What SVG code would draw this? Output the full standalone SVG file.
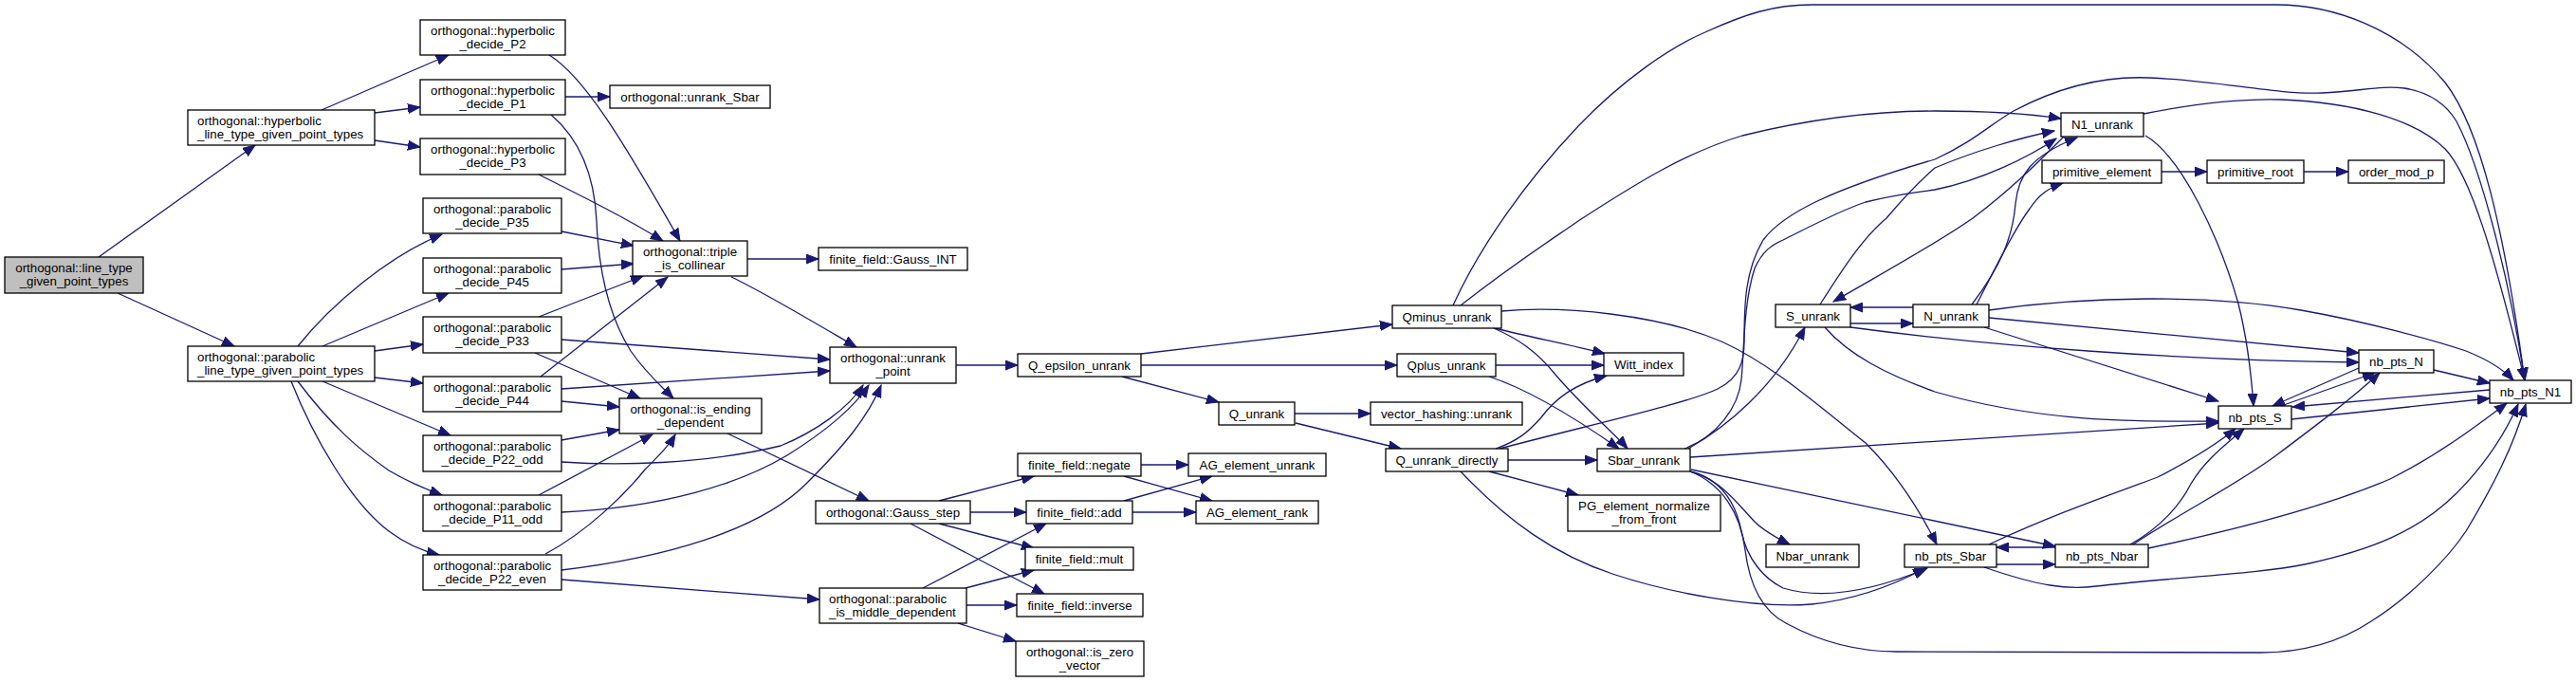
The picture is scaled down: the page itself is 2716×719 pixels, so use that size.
<svg xmlns="http://www.w3.org/2000/svg" width="2716" height="719" viewBox="0 0 2716 719">
<style>
.node rect{fill:#ffffff;stroke:#000000;stroke-width:1.3}
.root rect{fill:#bfbfbf}
.node text{font-family:"Liberation Sans",Arial,sans-serif;font-size:13.3px;fill:#000000}
.c{text-anchor:middle}
.edges path{fill:none;stroke:#191970;stroke-width:1.3;marker-end:url(#ah)}
</style>
<defs>
<marker id="ah" markerWidth="14" markerHeight="11" refX="13" refY="5.5" orient="auto" markerUnits="userSpaceOnUse">
<path d="M0,0.5 L13,5.5 L0,10.5 z" fill="#191970" stroke="#191970" stroke-width="1"/>
</marker>
</defs>
<rect x="0" y="0" width="2716" height="719" fill="#ffffff"/>
<g class="edges" id="edges">
<path d="M104,271 L269,153"/>
<path d="M124,309 L247,365"/>
<path d="M339,116 L473,58"/>
<path d="M395,119 L443,113"/>
<path d="M395,148 L443,155"/>
<path d="M579,58 C615,80 655,145 717,254"/>
<path d="M596,102 L643,102"/>
<path d="M581,121 C615,150 627,190 629,233 C631,280 640,330 665,370 C680,392 695,405 710,420"/>
<path d="M568,184 C620,210 660,230 699,254"/>
<path d="M592,244 L668,259"/>
<path d="M592,284 L668,278"/>
<path d="M568,334 L678,291"/>
<path d="M592,358 C700,366 800,373 875,379"/>
<path d="M564,372 L675,420"/>
<path d="M570,397 L704,292"/>
<path d="M592,410 L875,391"/>
<path d="M592,423 L653,429"/>
<path d="M592,464 L653,453"/>
<path d="M592,487 C650,491 740,490 823,470 C860,455 895,430 910,406"/>
<path d="M568,522 L688,458"/>
<path d="M592,540 C700,535 780,510 830,480 C870,455 900,430 916,406"/>
<path d="M575,584 C620,560 660,520 680,495 C695,480 705,470 712,458"/>
<path d="M592,601 C700,588 800,560 850,510 C890,470 915,440 929,406"/>
<path d="M592,611 L864,632"/>
<path d="M314,365 C350,320 410,270 466,247"/>
<path d="M340,365 L473,309"/>
<path d="M395,370 L446,363"/>
<path d="M395,398 L446,404"/>
<path d="M340,402 L475,459"/>
<path d="M314,402 C350,450 380,475 410,496 C430,508 450,516 466,522"/>
<path d="M307,402 C330,460 370,530 410,560 C430,575 450,582 463,585"/>
<path d="M788,273 L863,273"/>
<path d="M771,292 C805,308 850,335 903,366"/>
<path d="M767,457 L916,528"/>
<path d="M1008,385 L1073,385"/>
<path d="M1203,373 L1468,342"/>
<path d="M1203,385 L1473,385"/>
<path d="M1183,397 L1285,424"/>
<path d="M1365,436 L1445,436"/>
<path d="M1366,446 L1477,473"/>
<path d="M990,528 L1090,502"/>
<path d="M1023,540 L1082,540"/>
<path d="M990,552 L1090,578"/>
<path d="M960,552 L1101,626"/>
<path d="M1203,490 L1253,490"/>
<path d="M1185,502 L1278,528"/>
<path d="M1185,528 L1278,502"/>
<path d="M1194,540 L1261,540"/>
<path d="M973,620 L1103,552"/>
<path d="M1018,620 L1090,601"/>
<path d="M1019,638 L1072,638"/>
<path d="M1010,657 L1071,676"/>
<path d="M1540,322 C1600,275 1640,250 1664,233 C1730,190 1780,160 1837,143 C1930,120 2000,117 2040,117 C2100,117 2140,120 2173,125"/>
<path d="M1532,322 C1560,260 1610,190 1664,133 C1710,85 1760,50 1800,33 C1840,15 1870,5 1910,5 L2400,5 C2460,5 2530,30 2578,87 C2615,135 2640,240 2662,401"/>
<path d="M1577,346 C1610,355 1650,362 1692,373"/>
<path d="M1575,346 C1600,357 1620,370 1640,395 C1670,430 1700,455 1716,473"/>
<path d="M1583,328 C1650,322 1750,332 1815,360 C1870,385 1920,430 1967,467 C2000,500 2025,540 2042,574"/>
<path d="M1577,385 L1691,385"/>
<path d="M1570,397 C1610,410 1660,440 1707,473"/>
<path d="M1577,473 C1600,465 1612,455 1625,440 C1640,420 1660,405 1694,396"/>
<path d="M1590,485 L1684,485"/>
<path d="M1570,497 L1664,522"/>
<path d="M1540,497 C1590,550 1640,585 1700,605 C1760,625 1850,642 1910,637 C1960,632 2000,615 2030,599"/>
<path d="M1581,473 C1680,447 1780,425 1811,410 C1835,398 1839,380 1839,360 C1839,320 1840,285 1859,253 C1880,225 1930,200 2040,168 C2080,150 2100,130 2123,117 C2170,92 2220,80 2266,82 C2340,85 2400,100 2448,98 C2490,96 2510,90 2535,93 C2560,97 2578,108 2590,128 C2615,175 2645,290 2662,401"/>
<path d="M1776,473 C1810,460 1833,430 1836,400 C1839,370 1838,320 1850,283 C1858,265 1868,258 1880,253 C1910,238 1940,222 1967,213 C2000,205 2020,203 2040,200 C2090,190 2140,165 2168,146"/>
<path d="M1780,473 C1820,450 1870,410 1903,345"/>
<path d="M1782,482 L2339,446"/>
<path d="M1783,495 L2167,576"/>
<path d="M1782,497 C1815,505 1835,535 1850,550 C1860,560 1875,568 1887,574"/>
<path d="M1782,497 C1815,505 1830,530 1836,560 C1842,590 1860,610 1880,620 C1920,632 1970,625 2032,599"/>
<path d="M1782,497 C1815,510 1835,540 1840,580 C1845,620 1860,645 1883,657 C1920,677 1960,687 2000,687 L2383,688 C2430,688 2470,675 2500,655 C2540,630 2580,590 2600,560 C2630,510 2650,470 2663,426"/>
<path d="M1951,341 L2017,341"/>
<path d="M2017,324 L1951,324"/>
<path d="M1919,321 C1945,280 1965,250 1989,230 C2010,205 2025,190 2040,177 C2080,160 2130,145 2166,138"/>
<path d="M2176,144 C2150,170 2120,200 2080,230 C2040,258 1990,285 1933,318"/>
<path d="M2079,321 C2110,280 2122,250 2125,215 C2128,185 2140,165 2190,145"/>
<path d="M2084,321 C2105,280 2125,240 2140,220 C2150,205 2160,198 2175,193"/>
<path d="M2097,327 C2200,312 2330,310 2426,327 C2500,340 2570,360 2600,370 C2625,380 2640,390 2650,401"/>
<path d="M2097,335 L2487,372"/>
<path d="M2092,345 L2339,423"/>
<path d="M1951,345 C2100,365 2300,380 2487,382"/>
<path d="M1924,345 C1950,375 1990,395 2040,413 C2150,445 2250,445 2339,444"/>
<path d="M2260,120 C2320,108 2370,104 2405,105 C2480,108 2545,125 2578,157 C2605,185 2630,270 2662,401"/>
<path d="M2262,143 C2300,165 2340,250 2360,320 C2370,360 2374,400 2376,428"/>
<path d="M2279,181 L2327,181"/>
<path d="M2429,181 L2476,181"/>
<path d="M2097,574 C2170,540 2230,520 2275,503 C2310,485 2335,470 2357,452"/>
<path d="M2105,595 L2167,595"/>
<path d="M2167,577 L2105,577"/>
<path d="M2092,598 C2150,618 2180,622 2210,618 C2300,608 2380,605 2430,595 C2500,580 2550,560 2590,520 C2620,490 2640,460 2655,426"/>
<path d="M2246,574 C2280,555 2300,530 2310,510 C2325,485 2345,470 2366,452"/>
<path d="M2249,574 C2300,540 2360,510 2400,480 C2440,450 2480,420 2509,393"/>
<path d="M2265,578 C2350,560 2450,535 2520,505 C2570,480 2610,450 2643,425"/>
<path d="M2487,388 L2396,428"/>
<path d="M2405,428 L2504,393"/>
<path d="M2416,442 L2625,420"/>
<path d="M2625,411 L2417,429"/>
<path d="M2566,390 L2625,404"/>
</g>
<g id="n_line_type" class="node root"><rect x="5" y="271" width="146" height="38"/><text class="c" x="78" y="287">orthogonal::line_type</text><text class="c" x="78" y="301">_given_point_types</text></g>
<g id="n_hyp_line" class="node"><rect x="198" y="116" width="197" height="37"/><text x="208" y="132">orthogonal::hyperbolic</text><text x="208" y="146">_line_type_given_point_types</text></g>
<g id="n_par_line" class="node"><rect x="198" y="365" width="197" height="37"/><text x="208" y="381">orthogonal::parabolic</text><text x="208" y="395">_line_type_given_point_types</text></g>
<g id="n_hP2" class="node"><rect x="443" y="21" width="153" height="37"/><text class="c" x="519.5" y="37">orthogonal::hyperbolic</text><text class="c" x="519.5" y="51">_decide_P2</text></g>
<g id="n_hP1" class="node"><rect x="443" y="84" width="153" height="37"/><text class="c" x="519.5" y="100">orthogonal::hyperbolic</text><text class="c" x="519.5" y="114">_decide_P1</text></g>
<g id="n_hP3" class="node"><rect x="443" y="146" width="153" height="38"/><text class="c" x="519.5" y="162">orthogonal::hyperbolic</text><text class="c" x="519.5" y="176">_decide_P3</text></g>
<g id="n_pP35" class="node"><rect x="446" y="209" width="146" height="37"/><text class="c" x="519" y="225">orthogonal::parabolic</text><text class="c" x="519" y="239">_decide_P35</text></g>
<g id="n_pP45" class="node"><rect x="446" y="272" width="146" height="37"/><text class="c" x="519" y="288">orthogonal::parabolic</text><text class="c" x="519" y="302">_decide_P45</text></g>
<g id="n_pP33" class="node"><rect x="446" y="334" width="146" height="38"/><text class="c" x="519" y="350">orthogonal::parabolic</text><text class="c" x="519" y="364">_decide_P33</text></g>
<g id="n_pP44" class="node"><rect x="446" y="397" width="146" height="37"/><text class="c" x="519" y="413">orthogonal::parabolic</text><text class="c" x="519" y="427">_decide_P44</text></g>
<g id="n_pP22odd" class="node"><rect x="446" y="459" width="146" height="38"/><text class="c" x="519" y="475">orthogonal::parabolic</text><text class="c" x="519" y="489">_decide_P22_odd</text></g>
<g id="n_pP11odd" class="node"><rect x="446" y="522" width="146" height="38"/><text class="c" x="519" y="538">orthogonal::parabolic</text><text class="c" x="519" y="552">_decide_P11_odd</text></g>
<g id="n_pP22even" class="node"><rect x="446" y="585" width="146" height="37"/><text class="c" x="519" y="601">orthogonal::parabolic</text><text class="c" x="519" y="615">_decide_P22_even</text></g>
<g id="n_unrank_Sbar" class="node"><rect x="643" y="90" width="169" height="24"/><text class="c" x="727.5" y="107">orthogonal::unrank_Sbar</text></g>
<g id="n_triple" class="node"><rect x="667" y="254" width="121" height="37"/><text class="c" x="727.5" y="270">orthogonal::triple</text><text class="c" x="727.5" y="284">_is_collinear</text></g>
<g id="n_Gauss_INT" class="node"><rect x="863" y="261" width="157" height="24"/><text class="c" x="941.5" y="278">finite_field::Gauss_INT</text></g>
<g id="n_is_ending" class="node"><rect x="653" y="420" width="150" height="37"/><text class="c" x="728" y="436">orthogonal::is_ending</text><text class="c" x="728" y="450">_dependent</text></g>
<g id="n_unrank_point" class="node"><rect x="875" y="366" width="133" height="38"/><text class="c" x="941.5" y="382">orthogonal::unrank</text><text class="c" x="941.5" y="396">_point</text></g>
<g id="n_Gauss_step" class="node"><rect x="860" y="528" width="163" height="24"/><text class="c" x="941.5" y="545">orthogonal::Gauss_step</text></g>
<g id="n_is_middle" class="node"><rect x="864" y="620" width="155" height="37"/><text x="874" y="636">orthogonal::parabolic</text><text x="874" y="650">_is_middle_dependent</text></g>
<g id="n_Q_eps" class="node"><rect x="1073" y="373" width="130" height="24"/><text class="c" x="1138" y="390">Q_epsilon_unrank</text></g>
<g id="n_negate" class="node"><rect x="1073" y="478" width="130" height="24"/><text class="c" x="1138" y="495">finite_field::negate</text></g>
<g id="n_add" class="node"><rect x="1082" y="528" width="112" height="24"/><text class="c" x="1138" y="545">finite_field::add</text></g>
<g id="n_mult" class="node"><rect x="1081" y="577" width="114" height="24"/><text class="c" x="1138" y="594">finite_field::mult</text></g>
<g id="n_inverse" class="node"><rect x="1072" y="626" width="133" height="24"/><text class="c" x="1138.5" y="643">finite_field::inverse</text></g>
<g id="n_is_zero" class="node"><rect x="1071" y="676" width="135" height="37"/><text class="c" x="1138.5" y="692">orthogonal::is_zero</text><text class="c" x="1138.5" y="706">_vector</text></g>
<g id="n_Q_unrank" class="node"><rect x="1285" y="424" width="80" height="24"/><text class="c" x="1325" y="441">Q_unrank</text></g>
<g id="n_AG_unrank" class="node"><rect x="1253" y="478" width="145" height="24"/><text class="c" x="1325.5" y="495">AG_element_unrank</text></g>
<g id="n_AG_rank" class="node"><rect x="1261" y="528" width="129" height="24"/><text class="c" x="1325.5" y="545">AG_element_rank</text></g>
<g id="n_Qminus" class="node"><rect x="1468" y="322" width="115" height="24"/><text class="c" x="1525.5" y="339">Qminus_unrank</text></g>
<g id="n_Qplus" class="node"><rect x="1473" y="373" width="104" height="24"/><text class="c" x="1525" y="390">Qplus_unrank</text></g>
<g id="n_vh_unrank" class="node"><rect x="1445" y="424" width="160" height="24"/><text class="c" x="1525" y="441">vector_hashing::unrank</text></g>
<g id="n_Qud" class="node"><rect x="1461" y="473" width="129" height="24"/><text class="c" x="1525.5" y="490">Q_unrank_directly</text></g>
<g id="n_Witt" class="node"><rect x="1691" y="372" width="84" height="24"/><text class="c" x="1733" y="389">Witt_index</text></g>
<g id="n_Sbar_unrank" class="node"><rect x="1684" y="473" width="98" height="24"/><text class="c" x="1733" y="490">Sbar_unrank</text></g>
<g id="n_PG" class="node"><rect x="1653" y="522" width="161" height="38"/><text class="c" x="1733.5" y="538">PG_element_normalize</text><text class="c" x="1733.5" y="552">_from_front</text></g>
<g id="n_S_unrank" class="node"><rect x="1872" y="321" width="79" height="24"/><text class="c" x="1911.5" y="338">S_unrank</text></g>
<g id="n_N_unrank" class="node"><rect x="2017" y="321" width="80" height="24"/><text class="c" x="2057" y="338">N_unrank</text></g>
<g id="n_Nbar_unrank" class="node"><rect x="1862" y="574" width="98" height="24"/><text class="c" x="1911" y="591">Nbar_unrank</text></g>
<g id="n_nb_Sbar" class="node"><rect x="2008" y="574" width="97" height="24"/><text class="c" x="2056.5" y="591">nb_pts_Sbar</text></g>
<g id="n_nb_Nbar" class="node"><rect x="2167" y="574" width="98" height="24"/><text class="c" x="2216" y="591">nb_pts_Nbar</text></g>
<g id="n_N1_unrank" class="node"><rect x="2173" y="119" width="87" height="25"/><text class="c" x="2216.5" y="136">N1_unrank</text></g>
<g id="n_prim_el" class="node"><rect x="2153" y="169" width="126" height="24"/><text class="c" x="2216" y="186">primitive_element</text></g>
<g id="n_prim_root" class="node"><rect x="2327" y="169" width="102" height="24"/><text class="c" x="2378" y="186">primitive_root</text></g>
<g id="n_order" class="node"><rect x="2476" y="169" width="101" height="24"/><text class="c" x="2526.5" y="186">order_mod_p</text></g>
<g id="n_nb_S" class="node"><rect x="2339" y="428" width="77" height="24"/><text class="c" x="2377.5" y="445">nb_pts_S</text></g>
<g id="n_nb_N" class="node"><rect x="2487" y="369" width="79" height="24"/><text class="c" x="2526.5" y="386">nb_pts_N</text></g>
<g id="n_nb_N1" class="node"><rect x="2625" y="401" width="86" height="24"/><text class="c" x="2668" y="418">nb_pts_N1</text></g>
</svg>
